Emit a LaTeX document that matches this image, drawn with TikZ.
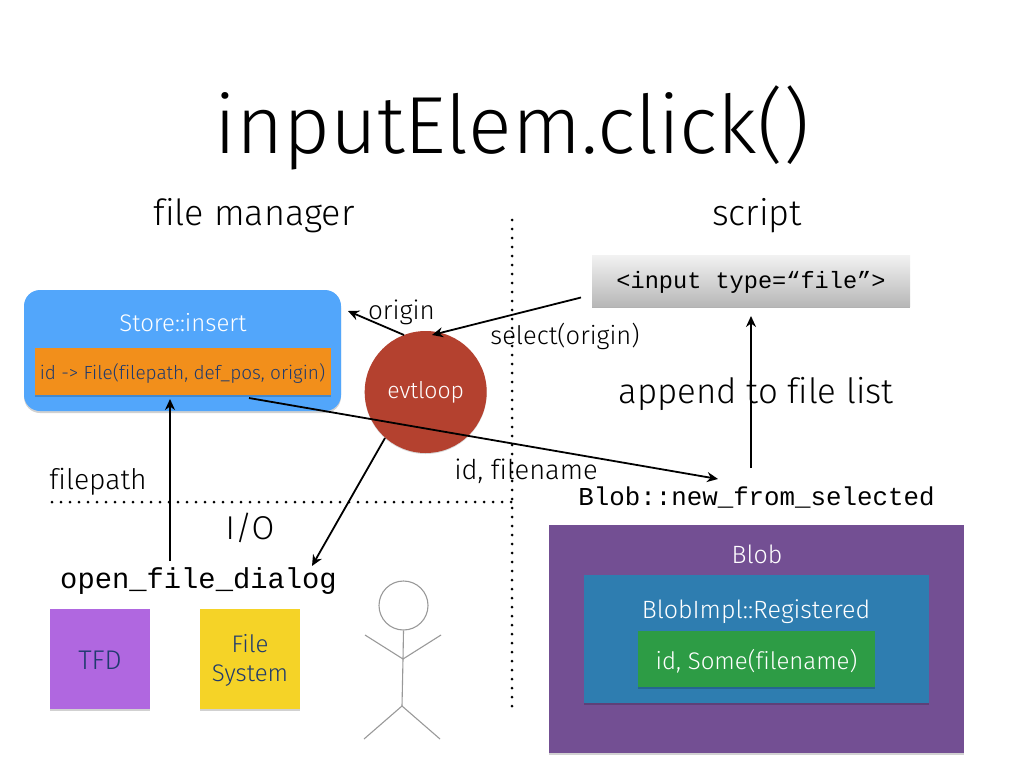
\documentclass[tikz,border=0pt]{standalone}
\usepackage{fontspec}
\setmainfont{Fira Sans Light}[Ligatures=NoCommon]
\setmonofont{Liberation Mono}
\usetikzlibrary{shadows,arrows.meta,shapes.geometric}
\newcommand{\fs}[1]{\fontsize{#1}{#1}\selectfont}
\definecolor{inktext}{HTML}{1F3A6E}
\tikzset{
  x=1pt,y=-1pt,
  txt/.style={inner sep=0pt,text=black,align=center},
  card/.style={drop shadow={shadow xshift=0pt,shadow yshift=-1.5pt,opacity=.18,fill=black}},
  conn/.style={draw=black,line width=1.8pt,-{Stealth[length=11pt,width=10pt]}},
  dots/.style={draw=black,line width=3pt,line cap=round,dash pattern=on 0pt off 9pt},
  fig/.style={draw=black!40,line width=1.1pt},
}
\begin{document}
\begin{tikzpicture}
\useasboundingbox (0,0) rectangle (1024,768);
% separators
\coordinate (vtop) at (512,220); \coordinate (vbot) at (512,712);
\coordinate (hl) at (52,502); \coordinate (hr) at (512,502);
\draw[dots] (vtop) -- (vbot);
\draw[dots] (hl) -- (hr);
% headings
\node[txt,font=\fs{81},anchor=base] (title) at (512,153) {inputElem.click()};
\node[txt,font=\fs{36}] (fm) at (254,216) {file manager};
\node[txt,font=\fs{36}] (script) at (757,216) {script};
% store
\fill[black,opacity=.18,rounded corners=16pt] (24,292) rectangle (341,413);
\fill[fill={rgb,255:red,82;green,166;blue,251},rounded corners=16pt] (24,290) rectangle (341,411);
\node[txt,text=white,font=\fs{24}] (store) at (183,323) {Store::insert};
\fill[card,fill={rgb,255:red,242;green,143;blue,27}] (34.5,348) rectangle (331,395);
\node[txt,text=inktext,font=\fs{19}] (entry) at (182.5,373) {id -> File(filepath, def\_pos, origin)};
% evtloop
\node[circle,minimum size=122pt,inner sep=0pt,fill={rgb,255:red,180;green,65;blue,47},drop shadow={shadow xshift=0pt,shadow yshift=-1pt,opacity=.15,fill=black},text=white,font=\fs{23}] (evt) at (425.7,392) {evtloop};
% input
\shade[top color=black!5,bottom color=black!28,drop shadow={shadow xshift=0pt,shadow yshift=-1.5pt,opacity=.3,fill=black}] (592,255) rectangle (910,306);
\node[txt,font=\ttfamily\fs{23.6}] (input) at (751,282) {<input type=“file”>};
% labels
\node[txt,font=\fs{26}] (originl) at (401.5,312) {origin};
\node[txt,font=\fs{25.5}] (sel) at (565,336) {select(origin)};
\node[txt,font=\fs{34.8}] (app) at (756,394) {append to file list};
\node[txt,font=\fs{28.3}] (fp) at (98,482) {filepath};
\node[txt,font=\fs{27.3}] (idf) at (526,471) {id, filename};
\node[txt,font=\fs{33}] (io) at (250,528) {I/O};
\node[txt,font=\ttfamily\fs{25.8}] (bnew) at (756.5,498) {Blob::new\_from\_selected};
\node[txt,font=\ttfamily\fs{28.8}] (ofd) at (198.5,581) {open\_file\_dialog};
% sticky notes
\fill[card,fill={rgb,255:red,176;green,103;blue,224}] (50,609) rectangle (150,709);
\node[txt,text=inktext,font=\fs{27}] (tfd) at (100,660) {TFD};
\fill[card,fill={rgb,255:red,245;green,211;blue,39}] (200,609) rectangle (300,709);
\node[txt,text=inktext,font=\fs{24},align=center] (fsys) at (250,660) {File\\[5pt]System};
% figure
\node[circle,draw=black!40,line width=1.1pt,minimum size=49pt,inner sep=0pt] (head) at (403.5,605.5) {};
\coordinate (hip) at (402,706); \coordinate (neck) at (403,659);
\coordinate (la) at (365,635); \coordinate (ra) at (441,635);
\coordinate (ll) at (364,739); \coordinate (rl) at (440,739);
\draw[fig] (head.south) -- (neck) -- (hip);
\draw[fig] (la) -- (neck) -- (ra);
\draw[fig] (ll) -- (hip) -- (rl);
% blob
\fill[card,fill={rgb,255:red,115;green,79;blue,147}] (549,525) rectangle (964,753);
\node[txt,text=white,font=\fs{25}] (blob) at (757,554) {Blob};
\fill[card,fill={rgb,255:red,46;green,125;blue,176}] (584,575) rectangle (929,703);
\node[txt,text=white,font=\fs{25}] (impl) at (756,612) {BlobImpl::Registered};
\fill[card,fill={rgb,255:red,45;green,156;blue,69}] (638,631) rectangle (875,687);
\node[txt,text=white,font=\fs{24}] (some) at (756.5,661) {id, Some(filename)};
% connector ends
\coordinate (a1) at (581,297.5); \coordinate (a2) at (432,335);
\coordinate (b1) at (404,335); \coordinate (b2) at (348,311);
\coordinate (c1) at (249,398); \coordinate (c2) at (718,479);
\coordinate (d1) at (170,561); \coordinate (d2) at (170,399);
\coordinate (e1) at (385,438); \coordinate (e2) at (312,566);
\coordinate (f1) at (751,468); \coordinate (f2) at (751,316);
\draw[conn] (a1) -- (a2);
\draw[conn] (b1) -- (b2);
\draw[conn] (c1) -- (c2);
\draw[conn] (d1) -- (d2);
\draw[conn] (e1) -- (e2);
\draw[conn] (f1) -- (f2);
\end{tikzpicture}
\end{document}
